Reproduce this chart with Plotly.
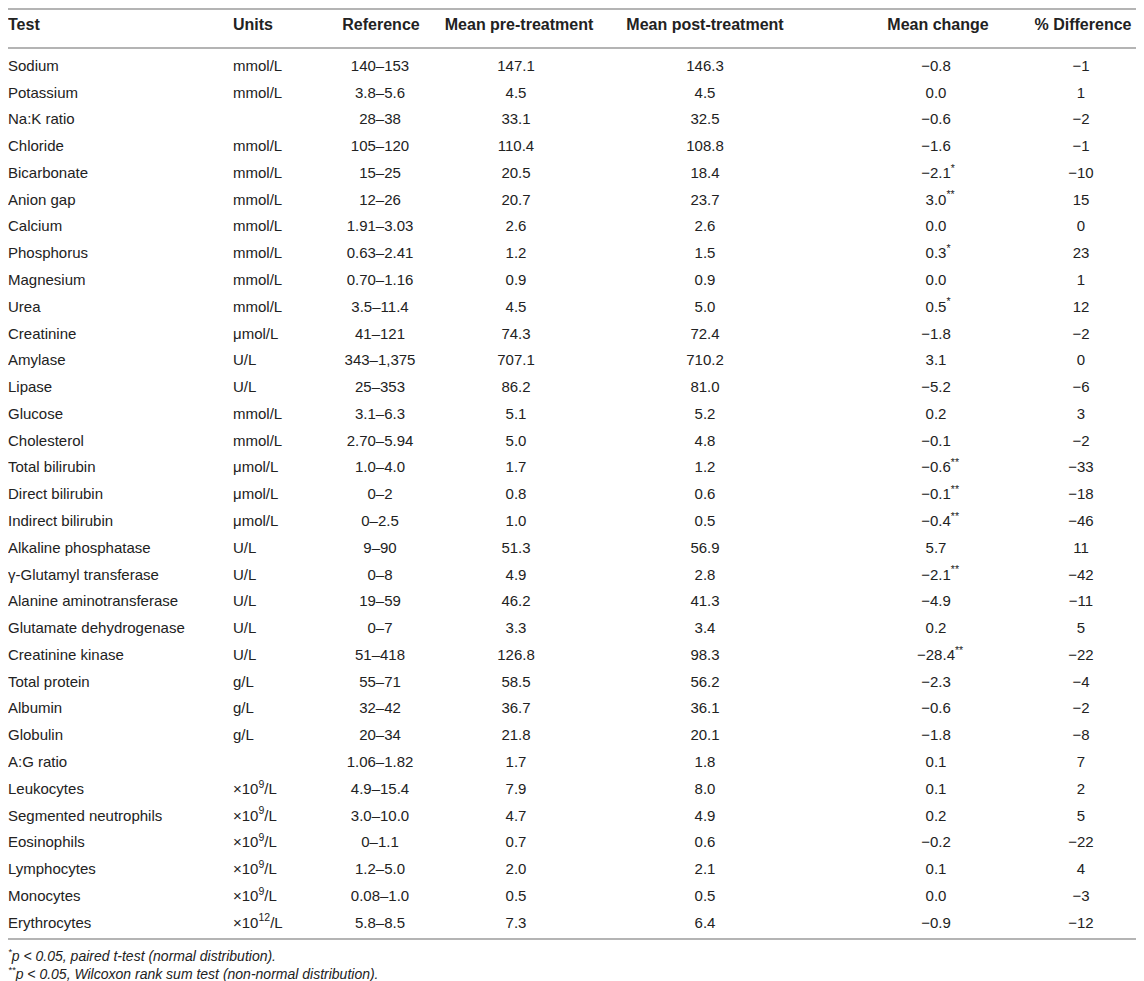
import plotly.graph_objects as go

# column headers
headers = ["Test", "Units", "Reference", "Mean pre-treatment",
           "Mean post-treatment", "Mean change", "% Difference"]

tests = ["Sodium", "Potassium", "Na:K ratio", "Chloride", "Bicarbonate", "Anion gap",
         "Calcium", "Phosphorus", "Magnesium", "Urea", "Creatinine", "Amylase", "Lipase",
         "Glucose", "Cholesterol", "Total bilirubin", "Direct bilirubin", "Indirect bilirubin",
         "Alkaline phosphatase", "γ-Glutamyl transferase", "Alanine aminotransferase",
         "Glutamate dehydrogenase", "Creatinine kinase", "Total protein", "Albumin",
         "Globulin", "A:G ratio", "Leukocytes", "Segmented neutrophils", "Eosinophils",
         "Lymphocytes", "Monocytes", "Erythrocytes"]

units = ["mmol/L", "mmol/L", "", "mmol/L", "mmol/L", "mmol/L", "mmol/L", "mmol/L",
         "mmol/L", "mmol/L", "μmol/L", "U/L", "U/L", "mmol/L", "mmol/L", "μmol/L",
         "μmol/L", "μmol/L", "U/L", "U/L", "U/L", "U/L", "U/L", "g/L", "g/L", "g/L", "",
         "×10<sup>9</sup>/L", "×10<sup>9</sup>/L", "×10<sup>9</sup>/L", "×10<sup>9</sup>/L",
         "×10<sup>9</sup>/L", "×10<sup>12</sup>/L"]

reference = ["140–153", "3.8–5.6", "28–38", "105–120", "15–25", "12–26", "1.91–3.03",
             "0.63–2.41", "0.70–1.16", "3.5–11.4", "41–121", "343–1,375", "25–353",
             "3.1–6.3", "2.70–5.94", "1.0–4.0", "0–2", "0–2.5", "9–90", "0–8", "19–59",
             "0–7", "51–418", "55–71", "32–42", "20–34", "1.06–1.82", "4.9–15.4",
             "3.0–10.0", "0–1.1", "1.2–5.0", "0.08–1.0", "5.8–8.5"]

pre = ["147.1", "4.5", "33.1", "110.4", "20.5", "20.7", "2.6", "1.2", "0.9", "4.5", "74.3",
       "707.1", "86.2", "5.1", "5.0", "1.7", "0.8", "1.0", "51.3", "4.9", "46.2", "3.3",
       "126.8", "58.5", "36.7", "21.8", "1.7", "7.9", "4.7", "0.7", "2.0", "0.5", "7.3"]

post = ["146.3", "4.5", "32.5", "108.8", "18.4", "23.7", "2.6", "1.5", "0.9", "5.0", "72.4",
        "710.2", "81.0", "5.2", "4.8", "1.2", "0.6", "0.5", "56.9", "2.8", "41.3", "3.4",
        "98.3", "56.2", "36.1", "20.1", "1.8", "8.0", "4.9", "0.6", "2.1", "0.5", "6.4"]

change = ["−0.8", "0.0", "−0.6", "−1.6", "−2.1", "3.0", "0.0", "0.3", "0.0", "0.5", "−1.8",
          "3.1", "−5.2", "0.2", "−0.1", "−0.6", "−0.1", "−0.4", "5.7", "−2.1", "−4.9",
          "0.2", "−28.4", "−2.3", "−0.6", "−1.8", "0.1", "0.1", "0.2", "−0.2", "0.1",
          "0.0", "−0.9"]

# significance marks on mean change
signif = ["", "", "", "", "*", "**", "", "*", "", "*", "", "", "", "", "", "**", "**", "**",
          "", "**", "", "", "**", "", "", "", "", "", "", "", "", "", ""]

pct_diff = ["−1", "1", "−2", "−1", "−10", "15", "0", "23", "1", "12", "−2", "0", "−6", "3",
            "−2", "−33", "−18", "−46", "11", "−42", "−11", "5", "−22", "−4", "−2", "−8", "7",
            "2", "5", "−22", "4", "−3", "−12"]

footnotes = ["<sup>*</sup>p &lt; 0.05, paired t-test (normal distribution).",
             "<sup>**</sup>p &lt; 0.05, Wilcoxon rank sum test (non-normal distribution)."]

W, H = 1144, 981
PAGE_MARGIN = 8  # default body margin of the html page
TXT = "#222222"
RULE = "#b4b4b4"
FONT = "Liberation Sans, Arial, sans-serif"

row_y0, row_step = 67, 26.78
rows_y = [row_y0 + i * row_step for i in range(len(tests))]
header_y = 26

# (x, anchor) for each column
cols = [(8, "left"), (233, "left"), (380, "center"), (516, "center"),
        (705, "center"), (936, "center"), (1081, "center")]
header_x = [8, 233, 381, 519, 705, 938, 1083]


def star_text(num, s):
    # invisible copy of the stars on the left keeps the number centred
    if not s:
        return num
    return ("<span style='color:rgba(0,0,0,0)'><sup>%s</sup></span>%s<sup>%s</sup>"
            % (s, num, s))


change_txt = [star_text(c, s) for c, s in zip(change, signif)]
columns = [tests, units, reference, pre, post, change_txt, pct_diff]

fig = go.Figure()

for (x, anchor), vals in zip(cols, columns):
    fig.add_trace(go.Scatter(
        x=[x] * len(vals), y=rows_y, text=vals, mode="text",
        textposition="middle right" if anchor == "left" else "middle center",
        textfont=dict(family=FONT, size=15, color=TXT),
        hoverinfo="skip", showlegend=False, cliponaxis=False))

for i, h in enumerate(headers):
    fig.add_trace(go.Scatter(
        x=[header_x[i]], y=[header_y], text=["<b>%s</b>" % h], mode="text",
        textposition="middle right" if cols[i][1] == "left" else "middle center",
        textfont=dict(family=FONT, size=16, color=TXT),
        hoverinfo="skip", showlegend=False, cliponaxis=False))

fig.add_trace(go.Scatter(
    x=[8, 8], y=[957, 975], text=["<i>%s</i>" % f for f in footnotes], mode="text",
    textposition="middle right",
    textfont=dict(family=FONT, size=14, color=TXT),
    hoverinfo="skip", showlegend=False, cliponaxis=False))

# horizontal rules: top of table, under header, under last row
for y in [PAGE_MARGIN + 1, 48, 939]:
    fig.add_shape(type="line", x0=PAGE_MARGIN, x1=W, y0=y, y1=y, xref="x", yref="y",
                  line=dict(color=RULE, width=2))

fig.update_layout(
    width=W - PAGE_MARGIN, height=H - PAGE_MARGIN,
    margin=dict(l=0, r=0, t=0, b=0),
    paper_bgcolor="white", plot_bgcolor="white",
    xaxis=dict(range=[PAGE_MARGIN, W], visible=False, fixedrange=True),
    yaxis=dict(range=[H, PAGE_MARGIN], visible=False, fixedrange=True),
)

fig.write_html("out.html")
